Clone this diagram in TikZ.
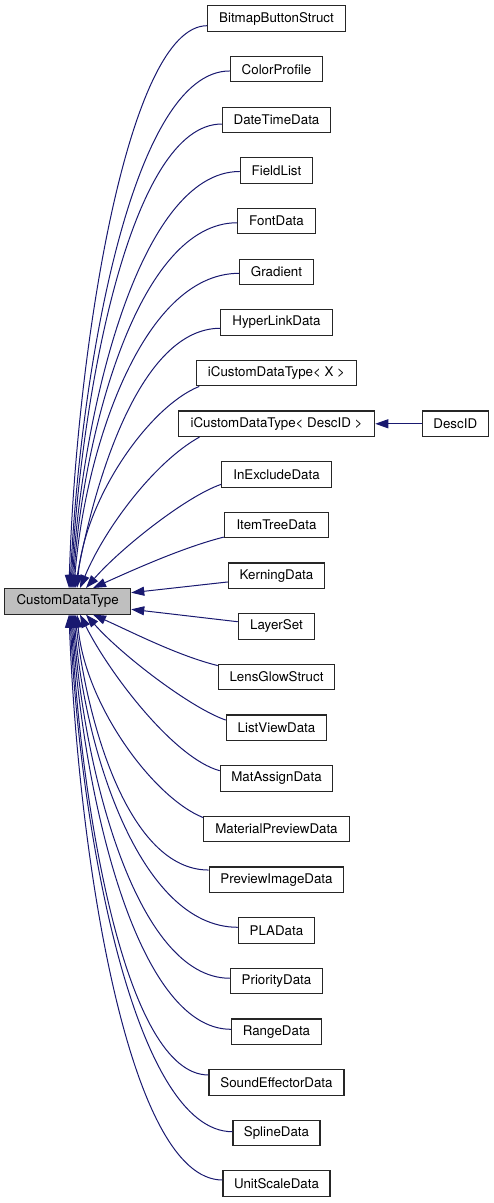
\documentclass[tikz,border=0pt]{standalone}
\usepackage{fontspec}
\setmainfont{TeX Gyre Heros}
\usetikzlibrary{arrows.meta,calc}
\definecolor{edgeblue}{HTML}{191970}
\definecolor{basefill}{HTML}{BFBFBF}
\begin{document}
\begin{tikzpicture}[x=1pt,y=-1pt,
  cls/.style={draw=black!85, line width=1.1pt, fill=white, inner xsep=0pt, inner ysep=0pt,
    minimum height=25.5pt, font=\fontsize{13.33}{16}\selectfont},
  basecls/.style={cls, fill=basefill},
  inh/.style={draw=edgeblue, line width=1pt, arrows={Triangle[length=13pt,width=9pt,fill=edgeblue]-}}
]
\useasboundingbox (0,0) rectangle (493,1203);

% base class
\node[basecls, minimum width=126pt] (cdt) at (67.7,601.3) {CustomDataType};

% derived classes
\node[cls, minimum width=137.6pt] (n0)  at (276.5,18.5)    {BitmapButtonStruct};
\node[cls, minimum width=92.4pt]  (n1)  at (276.5,69.16)   {ColorProfile};
\node[cls, minimum width=108.4pt] (n2)  at (276.5,119.82)  {DateTimeData};
\node[cls, minimum width=72.4pt]  (n3)  at (276.5,170.48)  {FieldList};
\node[cls, minimum width=77.6pt]  (n4)  at (276.5,221.14)  {FontData};
\node[cls, minimum width=73.6pt]  (n5)  at (276.5,271.8)   {Gradient};
\node[cls, minimum width=111.3pt] (n6)  at (276.5,322.46)  {HyperLinkData};
\node[cls, minimum width=160pt]   (n7)  at (276.5,373.12)  {iCustomDataType< X >};
\node[cls, minimum width=196.4pt] (n8)  at (276.5,423.78)  {iCustomDataType< DescID >};
\node[cls, minimum width=109.6pt] (n9)  at (276.5,474.44)  {InExcludeData};
\node[cls, minimum width=104.4pt] (n10) at (276.5,525.1)   {ItemTreeData};
\node[cls, minimum width=96.4pt]  (n11) at (276.5,575.76)  {KerningData};
\node[cls, minimum width=76.4pt]  (n12) at (276.5,626.42)  {LayerSet};
\node[cls, minimum width=116.4pt] (n13) at (276.5,677.08)  {LensGlowStruct};
\node[cls, minimum width=100.4pt] (n14) at (276.5,727.74)  {ListViewData};
\node[cls, minimum width=112.4pt] (n15) at (276.5,778.4)   {MatAssignData};
\node[cls, minimum width=145.6pt] (n16) at (276.5,829.06)  {MaterialPreviewData};
\node[cls, minimum width=134.7pt] (n17) at (276.5,879.72)  {PreviewImageData};
\node[cls, minimum width=76.4pt]  (n18) at (276.5,930.38)  {PLAData};
\node[cls, minimum width=92.4pt]  (n19) at (276.5,981.04)  {PriorityData};
\node[cls, minimum width=90pt]    (n20) at (276.5,1031.7)  {RangeData};
\node[cls, minimum width=135pt]   (n21) at (276.5,1082.36) {SoundEffectorData};
\node[cls, minimum width=87pt]    (n22) at (276.5,1133.02) {SplineData};
\node[cls, minimum width=107pt]   (n23) at (276.5,1183.68) {UnitScaleData};

\node[cls, minimum width=66pt] (descid) at (455.3,423.78) {DescID};

% upper edges
\draw[inh] ($(cdt.north)+(1.3,0)$)  .. controls +(7,-236)  and +(-80,0)  .. ($(n0.west)+(0,7.2)$);
\draw[inh] ($(cdt.north)+(2.3,0)$)  .. controls +(10,-217) and +(-98,0)  .. ($(n1.west)+(0,1.8)$);
\draw[inh] ($(cdt.north)+(3.3,0)$)  .. controls +(10,-195) and +(-91,0)  .. ($(n2.west)+(0,4.2)$);
\draw[inh] ($(cdt.north)+(4.3,0)$)  .. controls +(10,-175) and +(-101,0) .. ($(n3.west)+(0,1)$);
\draw[inh] ($(cdt.north)+(5.3,0)$)  .. controls +(10,-154) and +(-99,0)  .. ($(n4.west)+(0,1.6)$);
\draw[inh] ($(cdt.north)+(6.3,0)$)  .. controls +(10,-132) and +(-99,0)  .. ($(n5.west)+(0,1.5)$);
\draw[inh] ($(cdt.north)+(7.3,0)$)  .. controls +(20,-109) and +(-80,0)  .. ($(n6.west)+(0,5.8)$);
\draw[inh] ($(cdt.north)+(9.3,0)$)  .. controls +(8,-90)   and +(-50,20) .. ($(n7.south west)+(3.3,0)$);
\draw[inh] ($(cdt.north)+(12.3,0)$) .. controls +(25,-60)  and +(-45,25) .. ($(n8.south west)+(21.7,0)$);
\draw[inh] ($(cdt.north)+(18.3,0)$) .. controls +(35,-40)  and +(-35,12) .. ($(n9.west)+(0,9.9)$);
\draw[inh] ($(cdt.north)+(25.3,0)$) .. controls +(40,-18)  and +(-40,10) .. ($(n10.west)+(0,12)$);
% side edges
\draw[inh] ($(cdt.east)+(0,-8.6)$) -- ($(n11.west)+(0,6.2)$);
\draw[inh] ($(cdt.east)+(0,8)$)    -- ($(n12.west)+(0,-4.7)$);
% lower edges
\draw[inh] ($(cdt.south)+(25.3,0)$) .. controls +(40,18)   and +(-40,-10) .. ($(n13.west)+(0,-11.5)$);
\draw[inh] ($(cdt.south)+(18.3,0)$) .. controls +(35,40)   and +(-35,-12) .. ($(n14.west)+(0,-7.7)$);
\draw[inh] ($(cdt.south)+(12.3,0)$) .. controls +(30,60)   and +(-45,-12) .. ($(n15.west)+(0,-7.7)$);
\draw[inh] ($(cdt.south)+(9.3,0)$)  .. controls +(8,90)    and +(-50,-20) .. ($(n16.west)+(0,-11.5)$);
\draw[inh] ($(cdt.south)+(7.3,0)$)  .. controls +(12,108)  and +(-80,0)   .. ($(n17.west)+(0,-9.7)$);
\draw[inh] ($(cdt.south)+(6.3,0)$)  .. controls +(10,132)  and +(-99,0)   .. ($(n18.west)+(0,-3.1)$);
\draw[inh] ($(cdt.south)+(5.3,0)$)  .. controls +(10,153)  and +(-94,0)   .. ($(n19.west)+(0,-2.8)$);
\draw[inh] ($(cdt.south)+(4.3,0)$)  .. controls +(10,174)  and +(-96,0)   .. ($(n20.west)+(0,-2.4)$);
\draw[inh] ($(cdt.south)+(3.3,0)$)  .. controls +(10,194)  and +(-83,0)   .. ($(n21.west)+(0,-7.4)$);
\draw[inh] ($(cdt.south)+(2.3,0)$)  .. controls +(10,217)  and +(-98,0)   .. ($(n22.west)+(0,-1.3)$);
\draw[inh] ($(cdt.south)+(1.3,0)$)  .. controls +(9,238)   and +(-95,0)   .. ($(n23.west)+(0,-3.7)$);
% DescID
\draw[inh] (n8.east) -- (descid.west);
\end{tikzpicture}
\end{document}
